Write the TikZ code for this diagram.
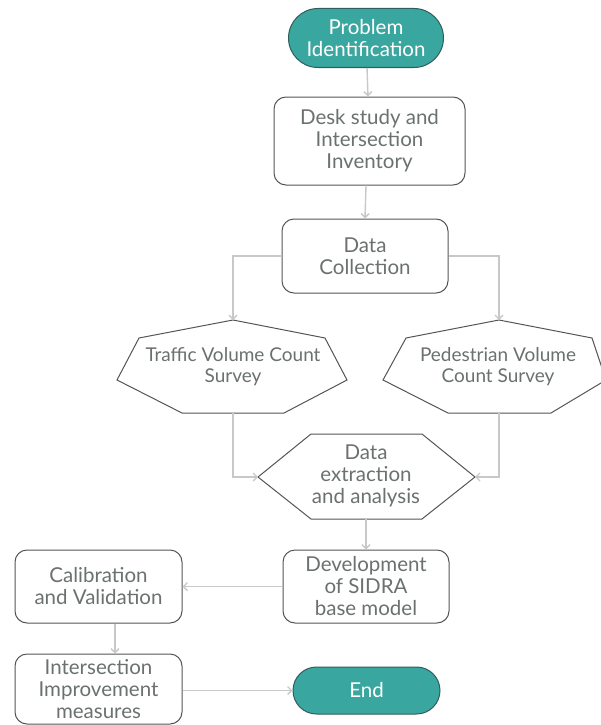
\documentclass[tikz,border=0pt]{standalone}
\usepackage{fontspec}
\setmainfont{Lato}
\usetikzlibrary{arrows.meta,calc}
\definecolor{tealfill}{HTML}{3AA6A0}
\definecolor{tealedge}{HTML}{2F5F5C}
\definecolor{txt}{HTML}{6B7070}
\definecolor{edgec}{HTML}{555555}
\definecolor{conn}{HTML}{C8C8C8}
\tikzset{
  box/.style={draw=edgec, line width=1pt, rounded corners=12pt, fill=white, text=txt, align=center, inner sep=0pt},
  term/.style={draw=tealedge, line width=1pt, fill=tealfill, text=white, align=center, inner sep=0pt},
  lbl/.style={text=txt, align=center, inner sep=0pt},
  shp/.style={draw=edgec, line width=1pt, fill=white, line join=miter},
  conn/.style={draw=conn, line width=1.4pt, -{Straight Barb[length=4pt,width=8pt]}},
  bigtxt/.style={font=\fontsize{20.5}{22}\selectfont},
  midtxt/.style={font=\fontsize{19}{21}\selectfont}
}
\begin{document}
\begin{tikzpicture}[x=1pt,y=-1pt]
\useasboundingbox (0,0) rectangle (601,725);
% terminals
\node[term, bigtxt, minimum width=155pt, minimum height=59pt, rounded corners=29.5pt] (prob) at (366,38) {Problem\\Identification};
\node[box, bigtxt, minimum width=191pt, minimum height=88pt] (desk) at (369.5,141) {Desk study and\\Intersection\\Inventory};
\node[box, bigtxt, minimum width=166pt, minimum height=74pt] (dc) at (365,256) {Data\\Collection};
% heptagons
\coordinate (trtop) at (233,320);
\coordinate (trbot) at (233,413);
\draw[shp] (trtop) -- (325,338) -- (347,380) -- (284,413) -- (182,413) -- (117,380) -- (139,338) -- cycle;
\node[lbl, midtxt] (tr) at (233,367) {Traffic Volume Count\\Survey};
\coordinate (pdtop) at (499,320);
\coordinate (pdbot) at (499,413);
\draw[shp] (pdtop) -- (592,338) -- (606,380) -- (551,413) -- (448,413) -- (383,380) -- (406,338) -- cycle;
\node[lbl, midtxt] (pd) at (498,367) {Pedestrian Volume\\Count Survey};
% hexagon
\coordinate (dxl) at (258,477);
\coordinate (dxr) at (475,477);
\draw[shp] (dxl) -- (311,434) -- (422,434) -- (dxr) -- (422,519) -- (311,519) -- cycle;
\node[lbl, bigtxt] (dx) at (366,476) {Data\\extraction\\and analysis};
\coordinate (dxbot) at (366,519);
% lower boxes
\node[box, bigtxt, minimum width=166pt, minimum height=73pt] (dev) at (366,586.5) {Development\\of SIDRA\\base model};
\node[box, bigtxt, minimum width=167pt, minimum height=73pt] (cal) at (98.5,586.5) {Calibration\\and Validation};
\node[box, bigtxt, minimum width=167pt, minimum height=70pt] (imp) at (98.5,689) {Intersection\\Improvement\\measures};
\node[term, bigtxt, minimum width=147pt, minimum height=47pt, rounded corners=23.5pt] (end) at (366.5,690.5) {End};
\coordinate (calx) at (115,0);
% connectors
\draw[conn] (prob) -- (desk);
\draw[conn] ([xshift=-3.5pt]desk.south) -- (dc.north);
\draw[conn] (dc.west) -| (trtop);
\draw[conn] (dc.east) -| (pdtop);
\draw[conn] (trbot) |- (dxl);
\draw[conn] (pdbot) |- (dxr);
\draw[conn] (dxbot) -- (dev.north);
\draw[conn] (dev.west) -- (cal.east);
\draw[conn] (cal.south -| calx) -- (imp.north -| calx);
\draw[conn] (imp.east |- end.west) -- (end.west);
\end{tikzpicture}
\end{document}
